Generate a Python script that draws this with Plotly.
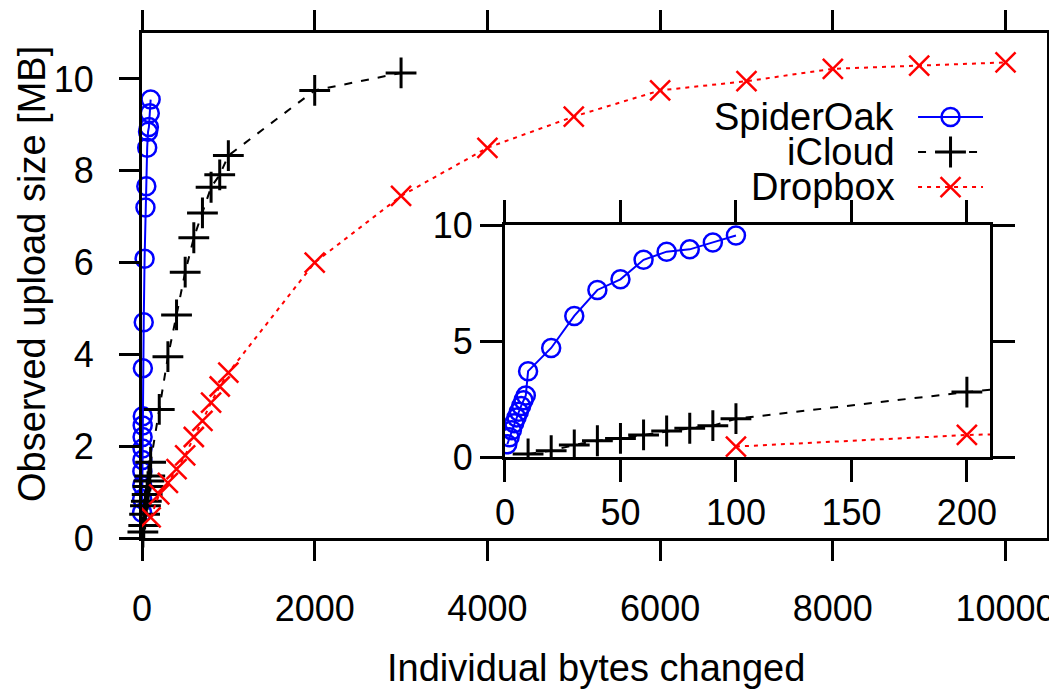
import plotly.graph_objects as go

# ---- data ----
spider_x = [1, 2, 3, 4, 5, 6, 7, 8, 9, 10, 20, 30, 40, 50, 60, 70, 80, 90, 100]
spider_y = [0.55, 0.85, 1.15, 1.45, 1.7, 1.95, 2.2, 2.45, 2.65, 3.7, 4.7, 6.08, 7.2, 7.66, 8.5, 8.85, 8.95, 9.25, 9.55]

icloud_x = [10, 20, 30, 40, 50, 60, 70, 80, 90, 100, 200, 300, 400, 500, 600, 700, 800, 900, 1000, 2000, 3000]
icloud_y = [0.13, 0.27, 0.52, 0.7, 0.8, 0.95, 1.12, 1.24, 1.35, 1.65, 2.8, 3.95, 4.86, 5.79, 6.54, 7.08, 7.64, 7.91, 8.33, 9.75, 10.13]

dropbox_x = [100, 200, 300, 400, 500, 600, 700, 800, 900, 1000, 2000, 3000, 4000, 5000, 6000, 7000, 8000, 9000, 10000]
dropbox_y = [0.45, 0.95, 1.2, 1.5, 1.8, 2.2, 2.55, 2.95, 3.3, 3.6, 6.0, 7.45, 8.5, 9.18, 9.75, 9.95, 10.22, 10.29, 10.36]

series_names = ["SpiderOak", "iCloud", "Dropbox"]
main_xticks = [0, 2000, 4000, 6000, 8000, 10000]
main_yticks = [0, 2, 4, 6, 8, 10]
inset_xticks = [0, 50, 100, 150, 200]
inset_yticks = [0, 5, 10]

FONT = "Liberation Sans, Arial, sans-serif"
BLUE, BLACK, RED = "#0000ff", "#000000", "#ff0000"

styles = {
    "SpiderOak": dict(line=dict(color=BLUE, width=2),
                      marker=dict(symbol="circle-open", size=18, color=BLUE, line=dict(width=2.5, color=BLUE))),
    "iCloud": dict(line=dict(color=BLACK, width=2, dash="8px,9px"),
                   marker=dict(symbol="cross-thin-open", size=22, color=BLACK, line=dict(width=3, color=BLACK))),
    "Dropbox": dict(line=dict(color=RED, width=2, dash="4px,5px"),
                    marker=dict(symbol="x-thin-open", size=20, color=RED, line=dict(width=2.5, color=RED))),
}
data = {
    "SpiderOak": (spider_x, spider_y),
    "iCloud": (icloud_x, icloud_y),
    "Dropbox": (dropbox_x, dropbox_y),
}

fig = go.Figure()

# main plot
for name in series_names:
    xs, ys = data[name]
    fig.add_trace(go.Scatter(x=xs, y=ys, mode="lines+markers", name=name,
                             showlegend=False, cliponaxis=False,
                             xaxis="x", yaxis="y", **styles[name]))

# inset
for name in series_names:
    xs, ys = data[name]
    fig.add_trace(go.Scatter(x=xs, y=ys, mode="lines+markers", name=name,
                             showlegend=False, cliponaxis=True,
                             xaxis="x2", yaxis="y2", **styles[name]))

# hand-made legend (text right-aligned, sample on the right like gnuplot)
leg_rows = [0.8337, 0.7644, 0.695]
for name, yy in zip(series_names, leg_rows):
    st = styles[name]
    fig.add_trace(go.Scatter(x=[0.8575, 0.9293], y=[yy, yy], mode="lines",
                             line=st["line"], showlegend=False, hoverinfo="skip",
                             xaxis="x3", yaxis="y3", cliponaxis=False))
    fig.add_trace(go.Scatter(x=[0.8934], y=[yy], mode="markers",
                             marker=st["marker"], showlegend=False, hoverinfo="skip",
                             xaxis="x3", yaxis="y3", cliponaxis=False))
    fig.add_annotation(text=name, xref="paper", yref="paper", x=0.834, y=yy,
                       xanchor="right", yanchor="middle", showarrow=False,
                       font=dict(family=FONT, size=38, color="black"))

axis_common = dict(showline=True, linewidth=3, linecolor="black", mirror="ticks",
                   ticks="outside", tickwidth=3, tickcolor="black", showgrid=False,
                   zeroline=False, automargin=False,
                   tickfont=dict(family=FONT, size=36, color="black"))

# the page body adds an 8px offset, so the figure is laid out 8px up/left
fig.update_layout(
    width=1049, height=682,
    margin=dict(l=134, r=10, t=25, b=152, autoexpand=False),
    paper_bgcolor="white", plot_bgcolor="white",
    showlegend=False,
    xaxis=dict(range=[0, 10480], tickvals=main_xticks, ticktext=[str(v) for v in main_xticks],
               ticklen=20, ticklabelstandoff=17, **axis_common),
    yaxis=dict(range=[0, 11], tickvals=main_yticks, ticktext=[str(v) for v in main_yticks],
               ticklen=20, ticklabelstandoff=18, **axis_common),
    xaxis2=dict(domain=[0.4011, 0.937], anchor="y2", range=[0, 210],
                tickvals=inset_xticks, ticktext=[str(v) for v in inset_xticks],
                ticklen=22, ticklabelstandoff=0, **axis_common),
    yaxis2=dict(domain=[0.1604, 0.6198], anchor="x2", range=[0, 10],
                tickvals=inset_yticks, ticktext=[str(v) for v in inset_yticks],
                ticklen=22, ticklabelstandoff=0, **axis_common),
    xaxis3=dict(domain=[0, 1], anchor="y3", range=[0, 1], visible=False, overlaying="x"),
    yaxis3=dict(domain=[0, 1], anchor="x3", range=[0, 1], visible=False, overlaying="y"),
)

fig.add_annotation(text="Individual bytes changed", xref="paper", yref="paper",
                   x=0.5022, y=-0.2574, xanchor="center", yanchor="middle", showarrow=False,
                   font=dict(family=FONT, size=38, color="black"))
fig.add_annotation(text="Observed upload size [MB]", xref="paper", yref="paper",
                   x=-0.1215, y=0.5228, xanchor="center", yanchor="middle", showarrow=False,
                   textangle=-90, font=dict(family=FONT, size=38, color="black"))

fig.write_html("out.html")
